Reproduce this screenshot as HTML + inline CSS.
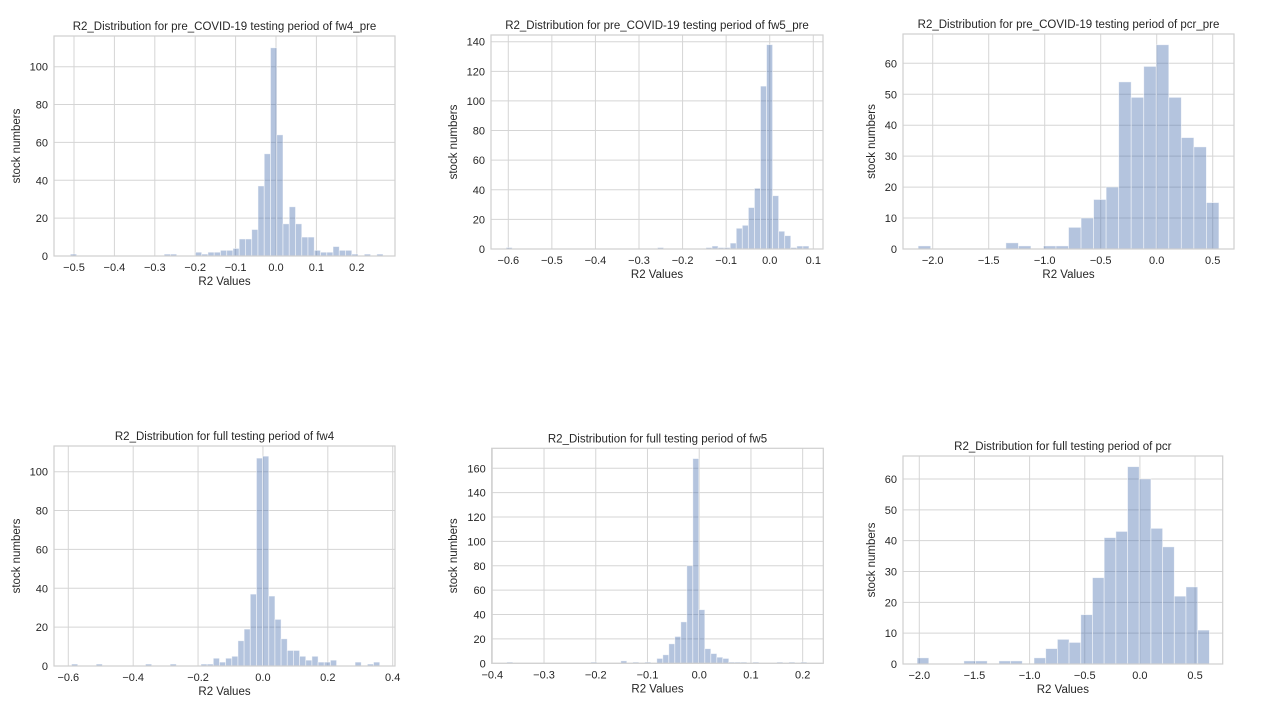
<!DOCTYPE html>
<html><head><meta charset="utf-8"><style>
body{margin:0;background:#fff;}
svg text{font-family:"Liberation Sans",sans-serif;fill:#262626;}
</style></head><body>
<svg id="fig" width="1280" height="720" viewBox="0 0 1280 720" xmlns="http://www.w3.org/2000/svg"></svg>
<script>
// Panel 1: fw4_pre
const p1Counts = [1,0,0,0,0,0,0,0,0,0,0,0,0,0,0,1,1,0,0,0,2,1,2,2,3,3,4,9,9,14,37,54,110,64,17,26,17,10,10,3,2,2,5,3,3,1,0,1,0,1];
const p1BinStart = -0.509, p1BinWidth = 0.01548;
const p1XTicks = [-0.5,-0.4,-0.3,-0.2,-0.1,0.0,0.1,0.2];
const p1YTicks = [0,20,40,60,80,100];
// Panel 2: fw5_pre
const p2Counts = [1,0,0,0,0,0,0,0,0,0,0,0,0,0,0,0,0,0,0,0,0,0,0,0,0,1,0,0,0,0,0,0,0,1,2,1,1,4,14,16,28,41,110,138,36,12,9,1,2,2];
const p2BinStart = -0.605, p2BinWidth = 0.0139;
const p2XTicks = [-0.6,-0.5,-0.4,-0.3,-0.2,-0.1,0.0,0.1];
const p2YTicks = [0,20,40,60,80,100,120,140];
// Panel 3: pcr_pre
const p3Counts = [1,0,0,0,0,0,0,2,1,0,1,1,7,10,16,20,54,49,59,66,49,36,33,15];
const p3BinStart = -2.13, p3BinWidth = 0.1119;
const p3XTicks = [-2.0,-1.5,-1.0,-0.5,0.0,0.5];
const p3YTicks = [0,10,20,30,40,50,60];
// Panel 4: fw4 full
const p4Counts = [1,0,0,0,1,0,0,0,0,0,0,0,1,0,0,0,1,0,0,0,0,1,1,4,2,4,5,13,19,37,107,108,36,24,14,8,8,5,3,5,2,2,3,0,0,0,2,0,1,2];
const p4BinStart = -0.59, p4BinWidth = 0.019;
const p4XTicks = [-0.6,-0.4,-0.2,0.0,0.2,0.4];
const p4YTicks = [0,20,40,60,80,100];
// Panel 5: fw5 full
const p5Counts = [1,0,0,0,0,0,0,0,0,0,0,0,0,0,1,0,0,0,0,2,0,1,0,1,0,4,7,16,22,34,80,168,44,12,8,5,4,1,1,1,0,1,0,0,0,1,0,1,0,1];
const p5BinStart = -0.372, p5BinWidth = 0.0116;
const p5XTicks = [-0.4,-0.3,-0.2,-0.1,0.0,0.1,0.2];
const p5YTicks = [0,20,40,60,80,100,120,140,160];
// Panel 6: pcr full
const p6Counts = [2,0,0,0,1,1,0,1,1,0,2,5,8,7,16,28,41,43,64,60,44,38,22,25,11];
const p6BinStart = -2.02, p6BinWidth = 0.106;
const p6XTicks = [-2.0,-1.5,-1.0,-0.5,0.0,0.5];
const p6YTicks = [0,10,20,30,40,50,60];

const NS="http://www.w3.org/2000/svg";
const svg=document.getElementById('fig');
function mk(tag,attrs,parent){const e=document.createElementNS(NS,tag);for(const k in attrs)e.setAttribute(k,attrs[k]);(parent||svg).appendChild(e);return e;}

function panel(cfg,counts,binStart,binWidth,xTicks,yTicks){
  const g=mk('g',{});
  
  
  const {L,R,T,B,x0,x0px,xUnitPx,y1px,yRef}=cfg;
  const xs=v=>x0px+(v-x0)*xUnitPx;
  const yScale=(B-y1px)/yRef;
  const ys=v=>B-v*yScale;
  // grid
  xTicks.forEach(t=>{const x=xs(t);const l=mk('line',{x1:x,x2:x,y1:T,y2:B,stroke:'#d5d5d5','stroke-width':1},g);
    
    
    const tx=mk('text',{x:x,y:B+15,'font-size':11,'text-anchor':'middle'},g);tx.textContent=(t<0?'\u2212':'')+Math.abs(t).toFixed(1);
    
    });
  yTicks.forEach(t=>{const y=ys(t);const l=mk('line',{x1:L,x2:R,y1:y,y2:y,stroke:'#d5d5d5','stroke-width':1},g);
    
    
    const tx=mk('text',{x:L-6,y:y+4,'font-size':11,'text-anchor':'end'},g);tx.textContent=String(t);
    
    });
  // bars
  counts.forEach((c,i)=>{if(c<=0)return;const a=binStart+i*binWidth;const xa=xs(a),xb=xs(a+binWidth);
    const r=mk('rect',{x:xa,y:ys(c),width:Math.max(0.5,xb-xa),height:c*yScale,fill:'rgba(76,114,176,0.42)',stroke:'rgba(255,255,255,0.6)','stroke-width':0.8},g);
    
    });
  // frame
  const f=mk('rect',{x:L,y:T,width:R-L,height:B-T,fill:'none',stroke:'#cfcfcf','stroke-width':1.2},g);
  
  
  const tt=mk('text',{x:(L+R)/2,y:T-6,'font-size':11.5,'text-anchor':'middle'},g);tt.textContent=cfg.title;
  
  
  const xl=mk('text',{x:(L+R)/2,y:B+29,'font-size':11.5,'text-anchor':'middle'},g);xl.textContent='R2 Values';
  
  
  const cy=(T+B)/2;
  const yl=mk('text',{x:cfg.ylx,y:cy,'font-size':11.5,'text-anchor':'middle',transform:`rotate(-90 ${cfg.ylx} ${cy})`},g);yl.textContent='stock numbers';
  
  
}

panel({name:'panel-fw4-pre',title:'R2_Distribution for pre_COVID-19 testing period of fw4_pre',L:54,R:395,T:36,B:256,x0:-0.5,x0px:74,xUnitPx:404,y1px:66.7,yRef:100,ylx:20},p1Counts,p1BinStart,p1BinWidth,p1XTicks,p1YTicks);
panel({name:'panel-fw5-pre',title:'R2_Distribution for pre_COVID-19 testing period of fw5_pre',L:491,R:823,T:35,B:249,x0:-0.6,x0px:508.3,xUnitPx:435.7,y1px:41.7,yRef:140,ylx:457},p2Counts,p2BinStart,p2BinWidth,p2XTicks,p2YTicks);
panel({name:'panel-pcr-pre',title:'R2_Distribution for pre_COVID-19 testing period of pcr_pre',L:903,R:1234,T:34,B:249,x0:-2.0,x0px:932.7,xUnitPx:112,y1px:63.3,yRef:60,ylx:875},p3Counts,p3BinStart,p3BinWidth,p3XTicks,p3YTicks);
panel({name:'panel-fw4-full',title:'R2_Distribution for full testing period of fw4',L:54,R:395,T:446,B:666,x0:-0.6,x0px:68.3,xUnitPx:324.4,y1px:471.7,yRef:100,ylx:20},p4Counts,p4BinStart,p4BinWidth,p4XTicks,p4YTicks);
panel({name:'panel-fw5-full',title:'R2_Distribution for full testing period of fw5',L:491.7,R:823.3,T:448.3,B:663.3,x0:-0.4,x0px:492.3,xUnitPx:517.3,y1px:468.3,yRef:160,ylx:457},p5Counts,p5BinStart,p5BinWidth,p5XTicks,p5YTicks);
panel({name:'panel-pcr-full',title:'R2_Distribution for full testing period of pcr',L:903,R:1222.7,T:456,B:664,x0:-2.0,x0px:919.3,xUnitPx:110.3,y1px:479,yRef:60,ylx:875},p6Counts,p6BinStart,p6BinWidth,p6XTicks,p6YTicks);
</script>
</body></html>
